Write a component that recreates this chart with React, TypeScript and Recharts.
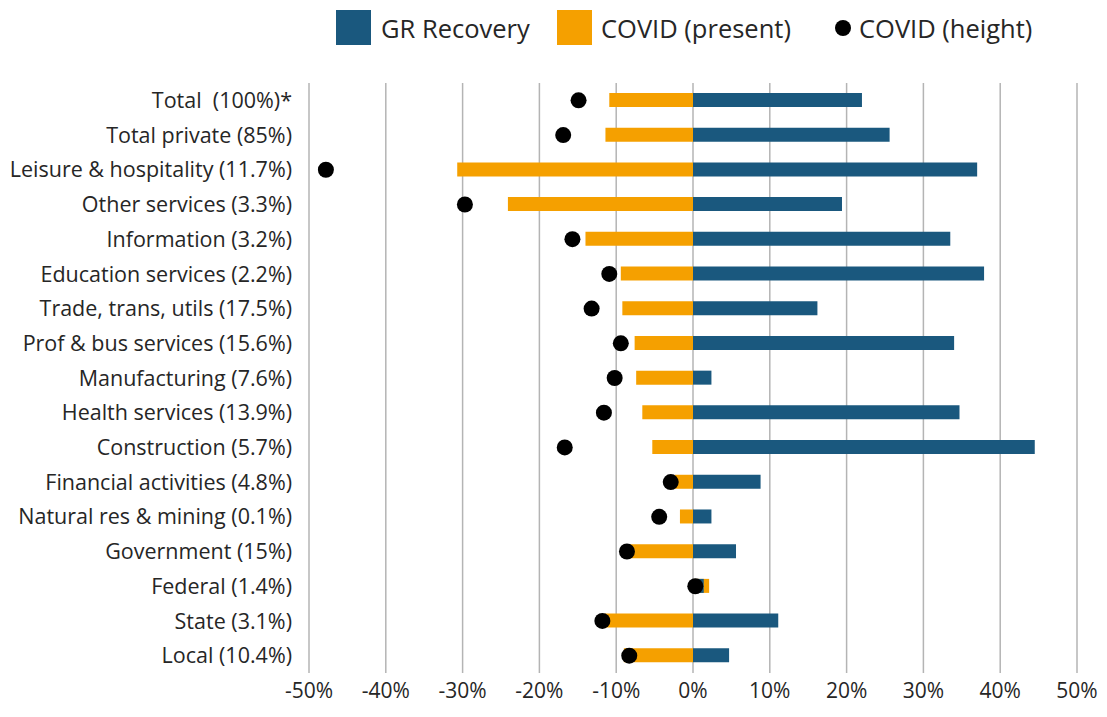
import { ComposedChart, Bar, Scatter, XAxis, YAxis, CartesianGrid } from 'recharts'

const categories = [
  'Total\u00a0 (100%)*',
  'Total private (85%)',
  'Leisure & hospitality (11.7%)',
  'Other services (3.3%)',
  'Information (3.2%)',
  'Education services (2.2%)',
  'Trade, trans, utils (17.5%)',
  'Prof & bus services (15.6%)',
  'Manufacturing (7.6%)',
  'Health services (13.9%)',
  'Construction (5.7%)',
  'Financial activities (4.8%)',
  'Natural res & mining (0.1%)',
  'Government (15%)',
  'Federal (1.4%)',
  'State (3.1%)',
  'Local (10.4%)',
]

const grRecovery = [22.0, 25.6, 37.0, 19.4, 33.5, 37.9, 16.2, 34.0, 2.4, 34.7, 44.5, 8.8, 2.4, 5.6, 1.4, 11.1, 4.7]
const covidPresent = [-10.9, -11.4, -30.7, -24.1, -14.0, -9.4, -9.2, -7.6, -7.4, -6.6, -5.3, -2.4, -1.7, -8.4, 2.1, -11.5, -9.0]
const covidHeight = [-14.9, -16.9, -47.8, -29.7, -15.7, -10.9, -13.2, -9.4, -10.2, -11.6, -16.7, -2.9, -4.4, -8.6, 0.3, -11.8, -8.3]

const xTicks = [-50, -40, -30, -20, -10, 0, 10, 20, 30, 40, 50]

const BLUE = '#1a587e'
const ORANGE = '#f5a000'
const FONT = '"Open Sans", sans-serif'
const TEXT = '#262626'

const data = categories.map((name, i) => ({
  name,
  recovery: grRecovery[i],
  present: covidPresent[i],
  height: covidHeight[i],
}))

function LegendBar() {
  const item = { display: 'flex', alignItems: 'center', position: 'absolute' as const, top: 10, height: 35 }
  const label = { fontSize: 25.5, color: TEXT, fontFamily: FONT, whiteSpace: 'nowrap' as const }
  return (
    <>
      <div style={{ ...item, left: 336 }}>
        <div style={{ width: 35, height: 35, background: BLUE, marginRight: 10 }} />
        <span style={label}>GR Recovery</span>
      </div>
      <div style={{ ...item, left: 557 }}>
        <div style={{ width: 35, height: 35, background: ORANGE, marginRight: 9 }} />
        <span style={label}>COVID (present)</span>
      </div>
      <div style={{ ...item, left: 835 }}>
        <div style={{ width: 16, height: 16, borderRadius: 8, background: '#000', marginRight: 8 }} />
        <span style={label}>COVID (height)</span>
      </div>
    </>
  )
}

export default function App() {
  return (
    <div style={{ position: 'absolute', left: 0, top: 0, width: 1107, height: 717, background: '#fff' }}>
      <ComposedChart
        width={1107}
        height={717}
        data={data}
        layout="vertical"
        margin={{ top: 83, right: 30, bottom: 14, left: 0 }}
        barSize={14}
        barGap={-14}
      >
        <CartesianGrid horizontal={false} stroke="#b4b4b4" strokeWidth={1.5} />
        <XAxis
          type="number"
          domain={[-50, 50]}
          ticks={xTicks}
          tickFormatter={v => `${v}%`}
          axisLine={false}
          tickLine={false}
          height={30}
          tickMargin={4}
          tick={{ fill: TEXT, fontSize: 21, fontFamily: FONT }}
        />
        <YAxis
          type="category"
          dataKey="name"
          width={309}
          interval={0}
          axisLine={false}
          tickLine={false}
          tickMargin={11}
          tick={{ fill: TEXT, fontSize: 21.5, fontFamily: FONT }}
        />
        <Bar dataKey="present" name="COVID (present)" fill={ORANGE} isAnimationActive={false} />
        <Bar dataKey="recovery" name="GR Recovery" fill={BLUE} isAnimationActive={false} />
        <Scatter
          dataKey="height"
          name="COVID (height)"
          fill="#000"
          isAnimationActive={false}
          shape={(p: any) => <circle cx={p.cx} cy={p.cy} r={8} fill="#000" />}
        />
      </ComposedChart>
      <LegendBar />
    </div>
  )
}
